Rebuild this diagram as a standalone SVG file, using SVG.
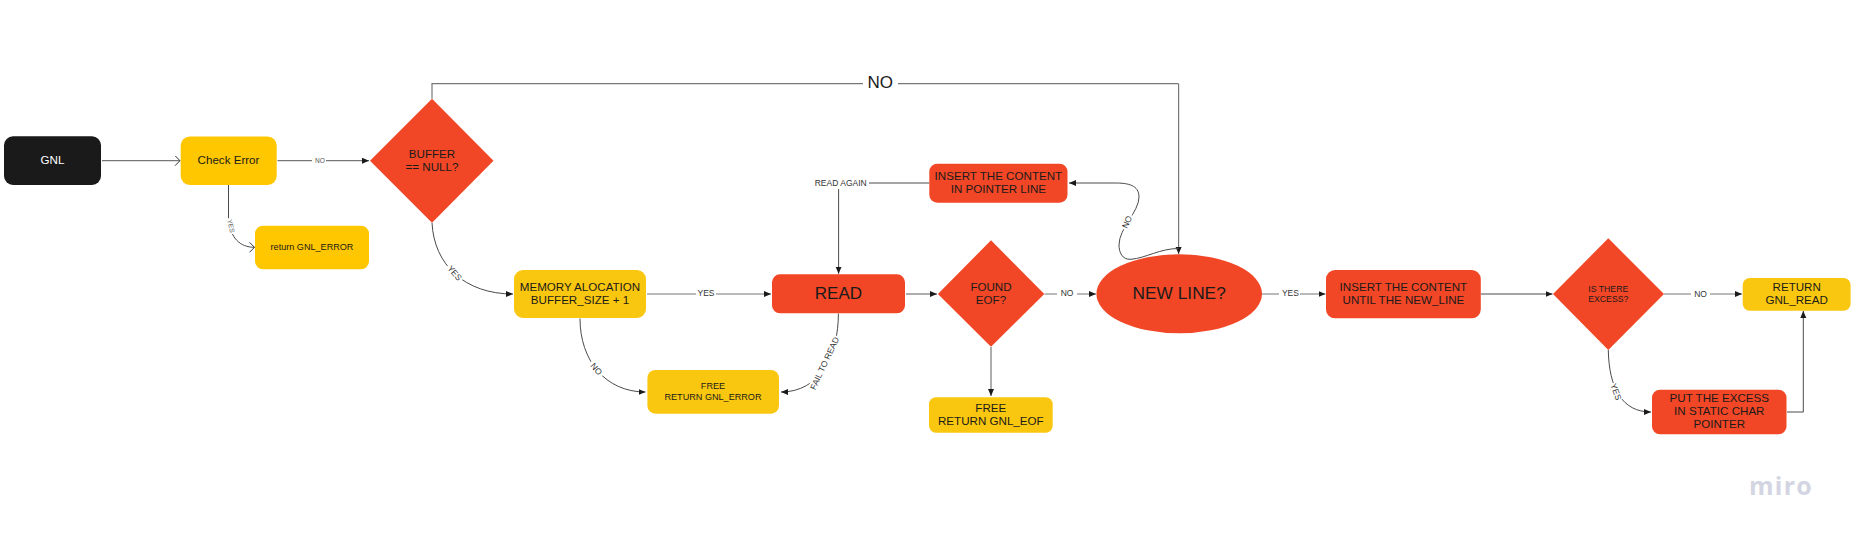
<svg xmlns="http://www.w3.org/2000/svg" width="1853" height="539" viewBox="0 0 1853 539">
<style>
text{font-family:"Liberation Sans",Arial,sans-serif;fill:#1a1a1a;text-anchor:middle}
.r{fill:#f24726}.y{fill:#fac710}.y2{fill:#ffc700}
.c{fill:none;stroke:#4a4a4a;stroke-width:1}
.s{stroke:#777;stroke-width:1.2}
.f{marker-end:url(#fa)}.o{marker-end:url(#oa)}
.lb{fill:#fff}
.t{font-size:11.6px}.n{font-size:9.1px}.l{font-size:8.5px;fill:#333}.m{font-size:6.6px;fill:#555}
</style>
<defs>
<marker id="fa" markerUnits="userSpaceOnUse" markerWidth="9" markerHeight="8" refX="7" refY="3" orient="auto"><path d="M0 0L7 3L0 6Z" fill="#1a1a1a"/></marker>
<marker id="oa" markerUnits="userSpaceOnUse" markerWidth="10" markerHeight="12" refX="7" refY="5" orient="auto"><path d="M2 0L7 5L2 10" fill="none" stroke="#333" stroke-width="1"/></marker>
</defs>
<rect width="1853" height="539" fill="#fff"/>
<g id="connectors">
<path class="c s o" d="M102 160.7H180"/>
<path class="c s f" d="M277.5 160.7H369"/>
<path class="c o" d="M228.5 185V218C230 238 240 247.3 254.5 247.3"/>
<path class="c s" d="M432 98.7V83.7H1178.6"/>
<path class="c s f" d="M1178.6 83.7V254"/>
<path class="c f" d="M432 222.7C434 265 465 294 513 294"/>
<path class="c s f" d="M647 294H771"/>
<path class="c f" d="M580 318.5C580 360 605 392 645.5 392"/>
<path class="c f" d="M838.4 313.5C838.4 355 820 392 781 392"/>
<path class="c s f" d="M906 294H937"/>
<path class="c s f" d="M991 347V396"/>
<path class="c s f" d="M1044.5 294H1096"/>
<path class="c f" d="M929.3 183H838.6V273.8"/>
<path class="c f" d="M1178.6 248.5C1160 248.5 1146 258 1131 259.3C1122 260 1119 252 1119 245C1119 228 1139 212 1139 197C1139 185 1128 183 1115 183H1069"/>
<path class="c s f" d="M1262 294H1325.5"/>
<path class="c f" d="M1481 294H1552.5"/>
<path class="c s f" d="M1664 294H1742"/>
<path class="c f" d="M1608.3 350C1609 388 1622 412 1651 412"/>
<path class="c f" d="M1787 412H1803.3V311"/>
<g id="edge-labels">
<rect class="lb" x="312" y="155" width="14" height="11"/><text class="m" x="320" y="162.8">NO</text>
<g transform="translate(231 226) rotate(78)"><rect class="lb" x="-8" y="-4.5" width="16" height="9"/><text class="m" y="2.3">YES</text></g>
<rect class="lb" x="863" y="74" width="35" height="18"/><text x="880.3" y="87.5" font-size="17">NO</text>
<g transform="translate(454.7 273) rotate(50)"><rect class="lb" x="-10" y="-5" width="20" height="10"/><text class="l" y="3">YES</text></g>
<rect class="lb" x="696" y="287" width="20" height="12"/><text class="l" x="706" y="295.7">YES</text>
<g transform="translate(596.4 369) rotate(50)"><rect class="lb" x="-9" y="-5" width="18" height="10"/><text class="l" y="3">NO</text></g>
<g transform="translate(824.5 363.3) rotate(-65)"><rect class="lb" x="-30" y="-5" width="60" height="10"/><text class="l" y="3">FAIL TO READ</text></g>
<rect class="lb" x="813" y="176" width="56" height="13"/><text class="l" x="840.7" y="185.7">READ AGAIN</text>
<rect class="lb" x="1057" y="287" width="20" height="12"/><text class="l" x="1067" y="295.7">NO</text>
<g transform="translate(1127 222) rotate(-65)"><rect class="lb" x="-8" y="-5" width="16" height="10"/><text class="l" y="3">NO</text></g>
<rect class="lb" x="1279" y="287" width="21" height="12"/><text class="l" x="1290.4" y="296.3">YES</text>
<rect class="lb" x="1691" y="287" width="19" height="12"/><text class="l" x="1700.5" y="296.7">NO</text>
<g transform="translate(1616 391.7) rotate(70)"><rect class="lb" x="-9" y="-5" width="18" height="10"/><text class="l" y="3">YES</text></g>
</g>
</g>
<g id="gnl"><rect x="4" y="136.3" width="97" height="48.7" rx="9" fill="#1a1a1a"/><text class="t" x="52.5" y="164" style="fill:#fff">GNL</text></g>
<g id="check-error"><rect class="y2" x="180.7" y="136.5" width="96" height="48.5" rx="9"/><text class="t" x="228.5" y="164">Check Error</text></g>
<g id="return-error"><rect class="y2" x="255" y="225.7" width="114" height="43.6" rx="8"/><text class="n" x="312" y="250">return GNL_ERROR</text></g>
<g id="buffer-null"><path class="r" d="M432 98.7L493.5 160.7L432 222.7L370 160.7Z"/><text class="t" x="432" y="158.3">BUFFER</text><text class="t" x="432" y="171.3">== NULL?</text></g>
<g id="memory"><rect class="y" x="514" y="270" width="132" height="48" rx="9"/><text class="t" x="580" y="291.3">MEMORY ALOCATION</text><text class="t" x="580" y="304.3">BUFFER_SIZE + 1</text></g>
<g id="read"><rect class="r" x="772" y="274.3" width="133" height="39" rx="8"/><text x="838.4" y="299" font-size="17">READ</text></g>
<g id="free-error"><rect class="y" x="647.4" y="370" width="131.6" height="43.7" rx="8"/><text class="n" x="713" y="389">FREE</text><text class="n" x="713" y="400">RETURN GNL_ERROR</text></g>
<g id="found-eof"><path class="r" d="M991 240.3L1044.3 294L991 346.8L937.9 294Z"/><text class="t" x="991" y="291">FOUND</text><text class="t" x="991" y="304">EOF?</text></g>
<g id="free-eof"><rect class="y" x="929" y="397.3" width="123.7" height="35.4" rx="7"/><text class="t" x="990.8" y="412">FREE</text><text class="t" x="990.8" y="425">RETURN GNL_EOF</text></g>
<g id="insert-pointer"><rect class="r" x="929.3" y="163.7" width="138.2" height="39" rx="8"/><text class="t" x="998.4" y="180">INSERT THE CONTENT</text><text class="t" x="998.4" y="193">IN POINTER LINE</text></g>
<g id="new-line"><ellipse class="r" cx="1179.2" cy="293.8" rx="82.8" ry="39.5"/><text x="1179.2" y="299" font-size="17.3">NEW LINE?</text></g>
<g id="insert-until"><rect class="r" x="1326" y="270" width="154.8" height="48.3" rx="9"/><text class="t" x="1403.4" y="291.3">INSERT THE CONTENT</text><text class="t" x="1403.4" y="304.3">UNTIL THE NEW_LINE</text></g>
<g id="excess"><path class="r" d="M1608.3 238.3L1664 294L1608.3 350L1553 294Z"/><text x="1608.3" y="292" font-size="8.7">IS THERE</text><text x="1608.3" y="302" font-size="8.7">EXCESS?</text></g>
<g id="return-read"><rect class="y" x="1742.7" y="278" width="107.9" height="32.7" rx="7"/><text class="t" x="1796.7" y="291">RETURN</text><text class="t" x="1796.7" y="304">GNL_READ</text></g>
<g id="put-excess"><rect class="r" x="1652" y="389.7" width="134.5" height="44.6" rx="8"/><text class="t" x="1719.3" y="402.3">PUT THE EXCESS</text><text class="t" x="1719.3" y="415.3">IN STATIC CHAR</text><text class="t" x="1719.3" y="428.3">POINTER</text></g>
<text x="1781" y="495" font-size="25" font-weight="700" letter-spacing="1.2" style="font-family:'Open Sans',sans-serif;fill:#d3d5e2">miro</text>
</svg>
